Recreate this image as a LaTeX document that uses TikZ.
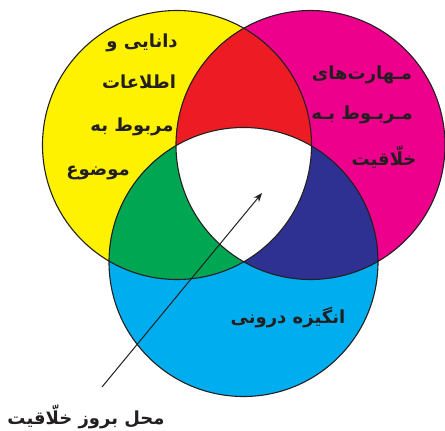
\documentclass[tikz,border=0pt]{standalone}
\usepackage{fontspec}
\usetikzlibrary{arrows.meta}
\newfontfamily\arabicfont[Script=Arabic]{DejaVu Sans}
\TeXXeTstate=1
\definecolor{cyel}{HTML}{FFF200}
\definecolor{cmag}{HTML}{EC008C}
\definecolor{ccya}{HTML}{00AEEF}
\definecolor{cred}{HTML}{ED1C24}
\definecolor{cgrn}{HTML}{00A651}
\definecolor{cblu}{HTML}{2E3192}
\definecolor{ctxt}{HTML}{231F20}
\begin{document}
\begin{tikzpicture}[x=1pt,y=-1pt,
  lbl/.style={font=\arabicfont\bfseries\fontsize{18}{21}\selectfont, inner sep=0pt, text=ctxt},
  ring/.style={draw=ctxt, line width=1.1pt}]
\useasboundingbox (0,0) rectangle (445,431);
\coordinate (Y) at (177,145);
\coordinate (M) at (310.5,145);
\coordinate (C) at (243.5,262);
\def\R{134.5pt}
\fill[cyel] (Y) circle[radius=\R];
\fill[cmag] (M) circle[radius=\R];
\fill[ccya] (C) circle[radius=\R];
\begin{scope}
  \clip (Y) circle[radius=\R];
  \fill[cred] (M) circle[radius=\R];
  \fill[cgrn] (C) circle[radius=\R];
\end{scope}
\begin{scope}
  \clip (M) circle[radius=\R];
  \fill[cblu] (C) circle[radius=\R];
\end{scope}
\begin{scope}
  \clip (Y) circle[radius=\R];
  \clip (M) circle[radius=\R];
  \fill[white] (C) circle[radius=\R];
\end{scope}
\draw[ring] (Y) circle[radius=\R];
\draw[ring] (M) circle[radius=\R];
\draw[ring] (C) circle[radius=\R];
% labels
\node[lbl] (y1) at (142,43) {\beginR دانایی و\endR};
\node[lbl] (y2) at (139,82) {\beginR اطلاعات\endR};
\node[lbl] (y3) at (132,127) {\beginR مربوط به\endR};
\node[lbl] (y4) at (98,173) {\beginR موضوع\endR};
\node[lbl] (m1) at (362,75) {\beginR مـهارت‌های\endR};
\node[lbl] (m2) at (362,115) {\beginR مـربـوط بـه\endR};
\node[lbl] (m3) at (384,157) {\beginR خلّاقیت\endR};
\node[lbl] (c1) at (288,318) {\beginR انگیزه درونی\endR};
\node[lbl] (out) at (86,417) {\beginR محل بروز خلّاقیت\endR};
\coordinate (as) at (102,387);
\coordinate (at) at (262,193);
\draw[line width=1pt, ctxt, -{Stealth[length=9pt,width=7pt]}] (as) -- (at);
\end{tikzpicture}
\end{document}
